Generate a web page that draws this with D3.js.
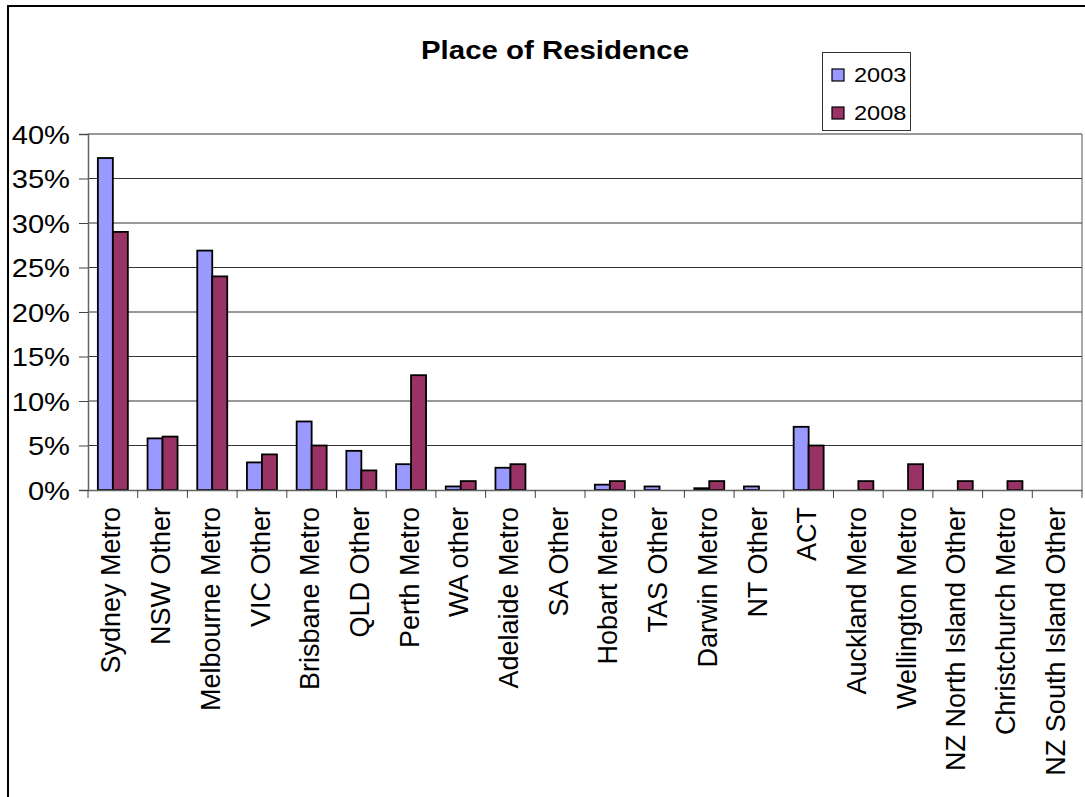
<!DOCTYPE html>
<html>
<head>
<meta charset="utf-8">
<script src="https://cdn.jsdelivr.net/npm/d3@7"></script>
<style>
  html, body { margin: 0; padding: 0; background: #fff; }
  svg { display: block; }
  text { font-family: "Liberation Sans", Arial, sans-serif; fill: #000; }
</style>
</head>
<body>
<svg id="chart" width="1085" height="797"></svg>
<script>
// ---- data ----
const categories = ["Sydney Metro", "NSW Other", "Melbourne Metro", "VIC Other", "Brisbane Metro",
  "QLD Other", "Perth Metro", "WA other", "Adelaide Metro", "SA Other", "Hobart Metro", "TAS Other",
  "Darwin Metro", "NT Other", "ACT", "Auckland Metro", "Wellington Metro", "NZ North Island Other",
  "Christchurch Metro", "NZ South Island Other"];
const seriesNames = ["2003", "2008"];
const values2003 = [37.3, 5.8, 26.9, 3.1, 7.7, 4.4, 2.9, 0.4, 2.5, 0, 0.6, 0.4, 0.2, 0.4, 7.1, 0, 0, 0, 0, 0];
const values2008 = [29.0, 6.0, 24.0, 4.0, 5.0, 2.2, 12.9, 1.0, 2.9, 0, 1.0, 0, 1.0, 0, 5.0, 1.0, 2.9, 1.0, 1.0, 0];
const yTicks = [0, 5, 10, 15, 20, 25, 30, 35, 40];
const titleText = "Place of Residence";
const colors = ["#9999FF", "#993366"];

// ---- layout ----
const svg = d3.select("#chart");
const plotLeft = 88, plotRight = 1082, plotTop = 134, plotBottom = 490;

// outer frame
svg.append("rect").attr("x", 8).attr("y", 6).attr("width", 1300).attr("height", 1000)
  .attr("fill", "none").attr("stroke", "#000").attr("stroke-width", 2);

const x0 = d3.scaleBand().domain(categories).range([plotLeft, plotRight]).paddingInner(0).paddingOuter(0);
const x1 = d3.scaleBand().domain(seriesNames).range([0, x0.bandwidth()]).paddingInner(0).paddingOuter(0.657);
const y = d3.scaleLinear().domain([0, 40]).range([plotBottom, plotTop]);

// gridlines
svg.append("g").selectAll("line").data(yTicks.filter(d => d > 0)).join("line")
  .attr("x1", plotLeft).attr("x2", plotRight)
  .attr("y1", d => y(d)).attr("y2", d => y(d))
  .attr("stroke", "#333").attr("stroke-width", 1);

// right border of plot area
svg.append("line").attr("x1", plotRight).attr("x2", plotRight).attr("y1", plotTop).attr("y2", plotBottom)
  .attr("stroke", "#555").attr("stroke-width", 1);

// bars
const rows = categories.map((c, i) => ({ cat: c, vals: [values2003[i], values2008[i]] }));
const groups = svg.append("g").selectAll("g").data(rows).join("g")
  .attr("transform", d => `translate(${x0(d.cat)},0)`);
groups.selectAll("rect").data(d => d.vals.map((v, j) => ({ v, s: seriesNames[j], j })).filter(e => e.v > 0))
  .join("rect")
  .attr("x", e => x1(e.s))
  .attr("width", x1.bandwidth())
  .attr("y", e => y(e.v))
  .attr("height", e => y(0) - y(e.v))
  .attr("fill", e => colors[e.j])
  .attr("stroke", "#000").attr("stroke-width", 1.8);

// y axis
const yAxis = d3.axisLeft(y).tickValues(yTicks).tickSize(9).tickFormat(d => d + "%");
const gy = svg.append("g").attr("transform", `translate(${plotLeft},0)`).call(yAxis);
gy.select(".domain").attr("stroke", "#666").attr("stroke-width", 1.5);
gy.selectAll(".tick line").attr("stroke", "#444");
gy.selectAll(".tick text")
  .attr("font-size", 26).attr("x", 0).attr("dy", "0.36em")
  .attr("transform", "translate(-18,0) scale(1.12,1)")
  .attr("font-family", "'Liberation Sans', Arial, sans-serif").attr("fill", "#000");

// x axis
const xAxis = d3.axisBottom(x0).tickSize(0).tickFormat(d => d);
const gx = svg.append("g").attr("transform", `translate(0,${plotBottom})`).call(xAxis);
gx.select(".domain").attr("stroke", "#666").attr("stroke-width", 1.5);
gx.selectAll(".tick text")
  .attr("font-size", 27)
  .attr("font-family", "'Liberation Sans', Arial, sans-serif").attr("fill", "#000")
  .attr("text-anchor", "end")
  .attr("transform", "translate(0,17) rotate(-90)")
  .attr("x", 0).attr("y", 0).attr("dy", "0.28em");
// boundary tick marks
const bounds = categories.map(c => x0(c)).concat([plotRight]);
svg.append("g").selectAll("line").data(bounds).join("line")
  .attr("x1", d => d).attr("x2", d => d).attr("y1", plotBottom).attr("y2", plotBottom + 8)
  .attr("stroke", "#444").attr("stroke-width", 1);

// title
svg.append("text").attr("x", 555).attr("y", 59)
  .attr("text-anchor", "middle").attr("font-size", 25.5).attr("font-weight", "bold")
  .attr("textLength", 268).attr("lengthAdjust", "spacingAndGlyphs")
  .text(titleText);

// legend
svg.append("rect").attr("x", 822.5).attr("y", 52.5).attr("width", 88).attr("height", 78)
  .attr("fill", "#fff").attr("stroke", "#333").attr("stroke-width", 1);
const lg = svg.append("g").selectAll("g").data(seriesNames).join("g")
  .attr("transform", (d, i) => `translate(832,${75 + i * 38})`);
lg.append("rect").attr("x", 0).attr("y", -6).attr("width", 12).attr("height", 12)
  .attr("fill", (d, i) => colors[i]).attr("stroke", "#000").attr("stroke-width", 1.2);
lg.append("text").attr("font-size", 20).attr("dy", "0.36em")
  .attr("transform", "translate(22,0) scale(1.18,1)")
  .text(d => d);
</script>
</body>
</html>
